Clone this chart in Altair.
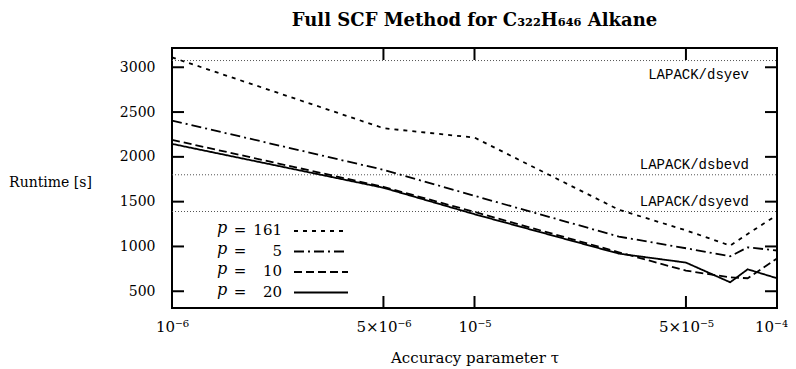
import altair as alt
import pandas as pd

# ---- data ----
tau = [1e-6, 5e-6, 1e-5, 3e-5, 5e-5, 7e-5, 8e-5, 1e-4]
p161 = [3110, 2320, 2215, 1410, 1180, 1010, 1140, 1350]
p5 = [2405, 1855, 1565, 1110, 980, 890, 990, 955]
p10 = [2190, 1665, 1385, 935, 730, 655, 645, 865]
p20 = [2145, 1655, 1360, 920, 820, 600, 745, 645]
series_keys = ["161", "5", "10", "20"]
series_vals = [p161, p5, p10, p20]

ref_labels = ["LAPACK/dsyev", "LAPACK/dsbevd", "LAPACK/dsyevd"]
ref_values = [3075, 1800, 1390]

y_ticks = [500, 1000, 1500, 2000, 2500, 3000]
x_ticks = [1e-6, 5e-6, 1e-5, 5e-5, 1e-4]
x_tick_labels = ["10⁻⁶", "5×10⁻⁶", "10⁻⁵", "5×10⁻⁵", "10⁻⁴"]

# ---- layout / style ----
W, H = 605, 260
SERIF = "DejaVu Serif"
MONO = "Liberation Mono"
dashes = {"161": [4, 5], "5": [10, 4, 2, 4], "10": [8, 4], "20": [1, 0]}

rows = []
for k, vals in zip(series_keys, series_vals):
    for t, v in zip(tau, vals):
        rows.append({"tau": t, "runtime": v, "p": k})
df = pd.DataFrame(rows)

xscale = alt.Scale(type="log", domain=[1e-6, 1e-4], nice=False)
yscale = alt.Scale(domain=[313, 3215], nice=False, zero=False)

label_expr = " : ".join(
    [f"abs(datum.value - {v}) < {v*1e-3} ? '{l}'" for v, l in zip(x_ticks, x_tick_labels)]
) + " : ''"

x_enc = alt.X("tau:Q", scale=xscale,
              axis=alt.Axis(values=x_ticks, labelExpr=label_expr, title="Accuracy parameter τ",
                            labelPadding=11, titleY=49, titleBaseline="middle",
                            labelFontSize=15, titleFontSize=15, labelFlush=False,
                            labelOffset={"condition": {"test": "datum.value > 9e-5", "value": -6},
                                         "value": 0}))
y_enc = alt.Y("runtime:Q", scale=yscale,
              axis=alt.Axis(values=y_ticks, format="d", title="Runtime [s]", titleAngle=0,
                            titleX=-122, titleY=134, titleAlign="center", titleBaseline="middle",
                            labelPadding=17, labelFontSize=14, titleFontSize=14))

lines = alt.Chart(df).mark_line(color="black", strokeWidth=1.8).encode(
    x=x_enc, y=y_enc,
    strokeDash=alt.StrokeDash("p:N", scale=alt.Scale(domain=series_keys,
                                                     range=[dashes[k] for k in series_keys]),
                              legend=None),
    detail="p:N",
)

ref_df = pd.DataFrame({"label": ref_labels, "runtime": ref_values})
ref_lines = alt.Chart(ref_df).mark_rule(color="#555", strokeWidth=1, strokeDash=[1, 2]).encode(
    y=alt.Y("runtime:Q", scale=yscale), x=alt.value(0), x2=alt.value(W))

ref_text_below = alt.Chart(ref_df[ref_df.label == "LAPACK/dsyev"]).mark_text(
    font=MONO, fontSize=14, align="right", baseline="middle", dy=14, color="black").encode(
    y=alt.Y("runtime:Q", scale=yscale), x=alt.value(W - 28), text="label:N")
ref_text_above = alt.Chart(ref_df[ref_df.label != "LAPACK/dsyev"]).mark_text(
    font=MONO, fontSize=14, align="right", baseline="middle", dy=-10, color="black").encode(
    y=alt.Y("runtime:Q", scale=yscale), x=alt.value(W - 28), text="label:N")

# inward ticks (mirrored)
yt = pd.DataFrame({"runtime": y_ticks})
xt = pd.DataFrame({"tau": x_ticks})
tick_l = alt.Chart(yt).mark_rule(color="black", strokeWidth=2).encode(
    y=alt.Y("runtime:Q", scale=yscale), x=alt.value(0), x2=alt.value(12))
tick_r = alt.Chart(yt).mark_rule(color="black", strokeWidth=2).encode(
    y=alt.Y("runtime:Q", scale=yscale), x=alt.value(W - 12), x2=alt.value(W))
tick_b = alt.Chart(xt).mark_rule(color="black", strokeWidth=2).encode(
    x=alt.X("tau:Q", scale=xscale), y=alt.value(H - 12), y2=alt.value(H))
tick_t = alt.Chart(xt).mark_rule(color="black", strokeWidth=2).encode(
    x=alt.X("tau:Q", scale=xscale), y=alt.value(0), y2=alt.value(12))

# custom legend (label left of sample)
one = pd.DataFrame({"a": [0]})
legend_layers = []
for i, k in enumerate(series_keys):
    ypos = 182 + i * 20.5
    legend_layers.append(alt.Chart(one).mark_text(
        font=SERIF, fontSize=16, fontStyle="italic", align="left", baseline="middle").encode(
        x=alt.value(45), y=alt.value(ypos - 2), text=alt.value("p")))
    legend_layers.append(alt.Chart(one).mark_text(
        font=SERIF, fontSize=15, align="center", baseline="middle").encode(
        x=alt.value(68), y=alt.value(ypos), text=alt.value("=")))
    legend_layers.append(alt.Chart(one).mark_text(
        font=SERIF, fontSize=15, align="right", baseline="middle").encode(
        x=alt.value(110), y=alt.value(ypos), text=alt.value(k)))
    legend_layers.append(alt.Chart(one).mark_rule(
        color="black", strokeWidth=1.8, strokeDash=dashes[k]).encode(
        x=alt.value(122), x2=alt.value(176), y=alt.value(ypos + 1)))

chart = alt.layer(
    ref_lines, ref_text_below, ref_text_above, lines,
    tick_l, tick_r, tick_b, tick_t, *legend_layers
).properties(
    width=W, height=H,
    title=alt.TitleParams("Full SCF Method for C₃₂₂H₆₄₆ Alkane", font=SERIF, fontSize=18,
                          fontWeight="bold", offset=17, anchor="middle"),
    autosize=alt.AutoSizeParams(type="none"),
    padding={"left": 164, "top": 40, "right": 11, "bottom": 60},
).configure_view(
    stroke="black", strokeWidth=2
).configure_axis(
    domain=False, ticks=False, tickSize=0, grid=False,
    labelFont=SERIF, titleFont=SERIF, labelColor="black", titleColor="black",
    titleFontWeight="normal"
)

chart.save("out.html", embed_options={"renderer": "svg", "actions": False})
